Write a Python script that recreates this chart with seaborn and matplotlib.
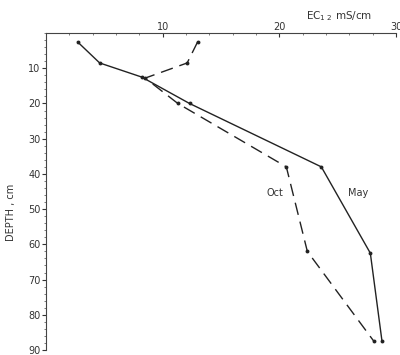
import pandas as pd
import matplotlib.pyplot as plt
import seaborn as sns
from matplotlib.ticker import MultipleLocator

# EC values (mS/cm), with depths in cm
may_depth = [2.5, 8.5, 12.5, 20, 38, 62.5, 87.5]
may_ec = [2.7, 4.6, 8.2, 12.3, 23.6, 27.8, 28.8]
oct_depth = [2.5, 8.5, 12.8, 20, 38, 62, 87.5]
oct_ec = [13.0, 12.1, 8.5, 11.3, 20.6, 22.4, 28.1]

data = pd.concat([
    pd.DataFrame({'depth': may_depth, 'ec': may_ec, 'month': 'May'}),
    pd.DataFrame({'depth': oct_depth, 'ec': oct_ec, 'month': 'Oct'}),
])

sns.set_style('white')
fig = plt.figure(figsize=(4, 3.55), dpi=100)
ax = fig.add_axes([0.115, 0.014, 0.875, 0.893])

sns.lineplot(data=data, x='ec', y='depth', hue='month', style='month',
             palette={'May': '#222222', 'Oct': '#222222'},
             dashes={'May': '', 'Oct': (9, 5)}, markers={'May': 'o', 'Oct': 'o'},
             markersize=2.8, markeredgewidth=0, linewidth=1.0, orient='y', sort=False,
             legend=False, ax=ax)

ax.set_xlim(0, 30)
ax.set_ylim(90, 0)
ax.xaxis.tick_top()
ax.xaxis.set_minor_locator(MultipleLocator(2))
ax.yaxis.set_minor_locator(MultipleLocator(2))
ax.set_yticks([10, 20, 30, 40, 50, 60, 70, 80, 90])
ax.set_xticks([10, 20, 30])
ax.tick_params(axis='both', which='major', length=3, width=0.8, labelsize=7, colors='#333333', pad=1)
ax.tick_params(axis='both', which='minor', length=1.5, width=0.6, colors='#666666')
ax.tick_params(axis='x', which='both', top=True, bottom=False, direction='in')
ax.tick_params(axis='y', which='both', left=True, direction='out')

for side in ['right', 'bottom']:
    ax.spines[side].set_visible(False)
for side in ['left', 'top']:
    ax.spines[side].set_color('#444444')
    ax.spines[side].set_linewidth(0.8)

ax.set_xlabel('')
ax.set_ylabel('DEPTH , cm', fontsize=7, color='#333333', labelpad=2)
ax.yaxis.set_label_coords(-0.085, 0.435)
fig.text(0.765, 0.945, 'EC$_{1\\ 2}$ mS/cm', fontsize=7.5, color='#333333')

ax.text(18.9, 45.5, 'Oct', fontsize=7, color='#333333', va='center')
ax.text(25.9, 45.5, 'May', fontsize=7, color='#333333', va='center')

fig.savefig('out.png', dpi=100)
